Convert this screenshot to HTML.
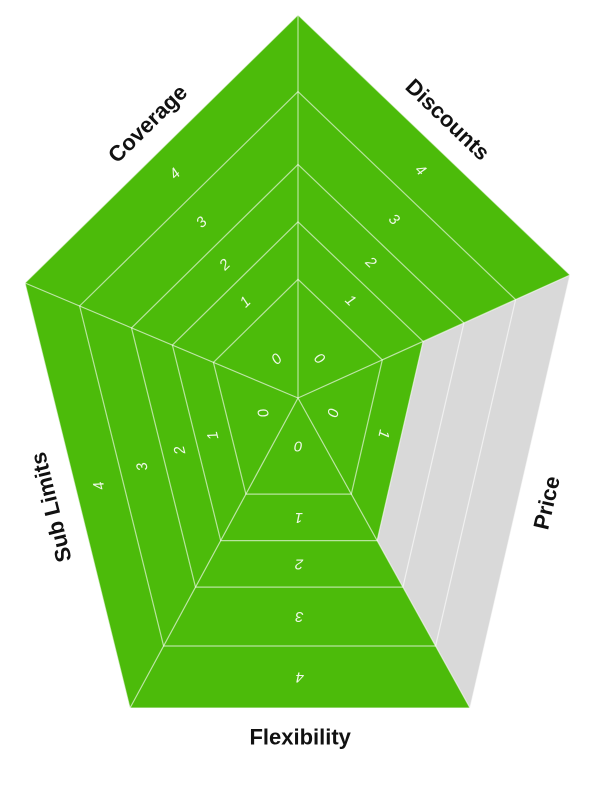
<!DOCTYPE html>
<html><head><meta charset="utf-8"><style>
html,body{margin:0;padding:0;background:#fff;}
svg{display:block;}
text{font-family:"Liberation Sans",sans-serif;}
</style></head><body>
<svg id="chart" width="600" height="800" viewBox="0 0 600 800"></svg>
<script>
const categories = ["Coverage","Discounts","Price","Flexibility","Sub Limits"];
const values = [4, 4, 1, 4, 4];
const bandLabels = ["0","1","2","3","4"];

const NS = "http://www.w3.org/2000/svg";
const svg = document.getElementById("chart");
const C = [298, 398];
const verts = [[25,283],[298,15],[570,275],[470,708],[130,708]];
const rings = [0, 0.31, 0.46, 0.61, 0.80, 1.0];
function pt(v, f){ return [C[0] + (v[0]-C[0])*f, C[1] + (v[1]-C[1])*f]; }
function mk(tag, attrs){ const e = document.createElementNS(NS, tag); for (const k in attrs) e.setAttribute(k, attrs[k]); svg.appendChild(e); return e; }
function poly(ps){ return ps.map(p => p[0].toFixed(1)+","+p[1].toFixed(1)).join(" "); }

const bg = mk("polygon", {points: poly(verts), fill: "#d9d9d9"});



categories.forEach((cat, i) => {
  const a = verts[i], b = verts[(i+1)%5];
  const f = rings[Math.min(values[i] + 1, rings.length - 1)];
  const s = mk("polygon", {points: poly([C, pt(a,f), pt(b,f)]), fill: "#4cbb0a"});
  
  
});

for (let r = 1; r < rings.length; r++) {
  const g = mk("polygon", {points: poly(verts.map(v => pt(v, rings[r]))), fill: "none", stroke: "rgba(255,255,255,0.6)", "stroke-width": 1.2});
  
  
}
verts.forEach(v => {
  const l = mk("line", {x1: C[0], y1: C[1], x2: v[0], y2: v[1], stroke: "rgba(255,255,255,0.6)", "stroke-width": 1.2});
  
  
});

categories.forEach((cat, i) => {
  const a = verts[i], b = verts[(i+1)%5];
  const m = [(a[0]+b[0])/2, (a[1]+b[1])/2];
  let ang = Math.atan2(b[1]-a[1], b[0]-a[0]) * 180 / Math.PI;
  bandLabels.forEach((lab, k) => {
    if (k > values[i]) return;
    const f = (rings[k] + rings[k+1]) / 2;
    const p = pt(m, f);
    const t = mk("text", {x: p[0], y: p[1], fill: "rgba(255,255,255,0.9)", "font-size": 15, "font-style": "italic", "text-anchor": "middle", "dominant-baseline": "central", transform: `rotate(${ang.toFixed(1)} ${p[0].toFixed(1)} ${p[1].toFixed(1)})`});
    t.textContent = lab;
    
    
  });
  const dx = m[0]-C[0], dy = m[1]-C[1], L = Math.hypot(dx, dy);
  const q = [m[0] + dx/L*29, m[1] + dy/L*29];
  let la = ang; if (la > 90) la -= 180;
  const t = mk("text", {x: q[0], y: q[1], fill: "#111", "font-size": 22, "font-weight": "bold", "text-anchor": "middle", "dominant-baseline": "central", transform: `rotate(${la.toFixed(1)} ${q[0].toFixed(1)} ${q[1].toFixed(1)})`});
  t.textContent = cat;
  
  
});
</script>
</body></html>
